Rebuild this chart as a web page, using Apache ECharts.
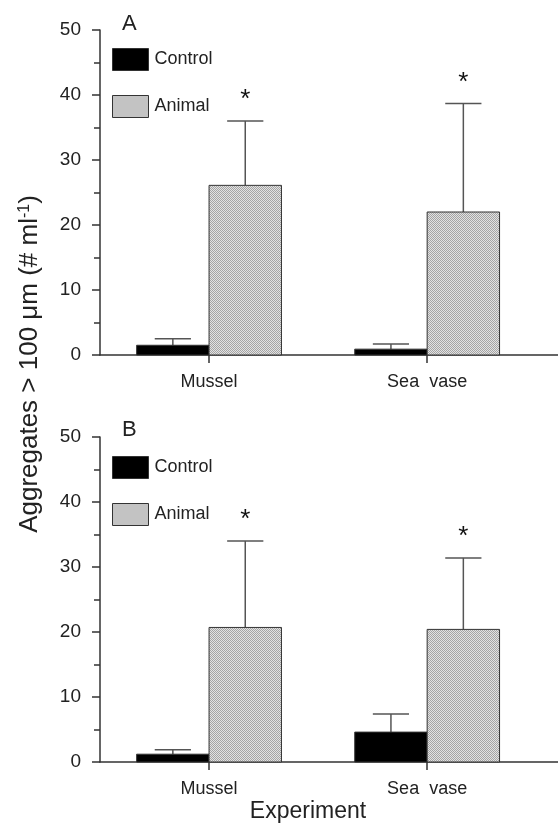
<!DOCTYPE html>
<html lang="en">
<head>
    <meta charset="UTF-8">
    <title>Aggregates</title>
    <script src="https://cdn.jsdelivr.net/npm/echarts@6/dist/echarts.min.js"></script>
</head>
<style>
    html,body{margin:0;padding:0;background:#fff;}
    #chart{width:558px;height:824px;}
</style>
<body>
    <div id="chart"></div>
</body>
</html>

<script>
    // data (means and upward SE)
    let categories = ['Mussel', 'Sea  vase'];
    let controlA = [1.5, 0.9];
    let controlASE = [1.0, 0.8];
    let animalA = [26.1, 22.0];
    let animalASE = [9.9, 16.7];
    let controlB = [1.2, 4.6];
    let controlBSE = [0.7, 2.8];
    let animalB = [20.7, 20.4];
    let animalBSE = [13.3, 11.0];
    let yTicks = [0, 10, 20, 30, 40, 50];

    let FONT = '"Liberation Sans", Arial, sans-serif';
    let BAR_W = 0.332;

    // stippled grey fill for the Animal bars
    let cv = document.createElement('canvas');
    cv.width = 2; cv.height = 2;
    let cx = cv.getContext('2d');
    cx.fillStyle = '#e2e2e2'; cx.fillRect(0, 0, 2, 2);
    cx.fillStyle = '#a4a4a4'; cx.fillRect(0, 0, 1, 1); cx.fillRect(1, 1, 1, 1);
    let stipple = {image: cv, repeat: 'repeat'};

    function toData(vals, se) {
        return vals.map((v, i) => [i, v, v + se[i]]);
    }

    function barRenderer(side, fill, star) {
        return function (params, api) {
            let x = api.value(0), v = api.value(1), top = api.value(2);
            let base = api.coord([x, 0]);
            let head = api.coord([x, v]);
            let w = api.size([BAR_W, 0])[0];
            let x0 = side < 0 ? base[0] - w : base[0];
            let mid = x0 + w / 2;
            let cap = api.coord([x, top]);
            let kids = [
                {type: 'line', shape: {x1: mid, y1: head[1], x2: mid, y2: cap[1]},
                    style: {stroke: '#555', lineWidth: 1.5}},
                {type: 'line', shape: {x1: mid - w / 4, y1: cap[1], x2: mid + w / 4, y2: cap[1]},
                    style: {stroke: '#555', lineWidth: 1.5}},
                {type: 'rect', shape: {x: x0, y: head[1], width: w, height: base[1] - head[1]},
                    style: {fill: fill, stroke: '#333', lineWidth: 1}}
            ];
            if (star) {
                kids.push({type: 'text', style: {text: '*', x: mid, y: cap[1] - 21, align: 'center',
                    verticalAlign: 'middle', fontSize: 26, fontFamily: FONT, fill: '#111'}});
            }
            return {type: 'group', children: kids};
        };
    }

    function xAxis(idx) {
        return {
            type: 'value', gridIndex: idx, min: -0.5, max: 1.6,
            splitLine: {show: false},
            axisLine: {onZero: false, lineStyle: {color: '#333', width: 1.5}},
            axisTick: {customValues: [0, 1], length: 8, lineStyle: {color: '#333', width: 1.5}},
            axisLabel: {customValues: [0, 1], formatter: v => categories[v], margin: 18,
                fontSize: 18, fontFamily: FONT, color: '#222'}
        };
    }

    function yAxis(idx) {
        return {
            type: 'value', gridIndex: idx, min: yTicks[0], max: yTicks[yTicks.length - 1], interval: 10,
            splitLine: {show: false},
            axisLine: {show: true, onZero: false, lineStyle: {color: '#333', width: 1.5}},
            axisTick: {show: true, length: 8, lineStyle: {color: '#333', width: 1.5}},
            minorTick: {show: true, splitNumber: 2, length: 6, lineStyle: {color: '#333', width: 1.5}},
            axisLabel: {margin: 19, fontSize: 19, fontFamily: FONT, color: '#222'}
        };
    }

    function legend(top) {
        return {
            orient: 'vertical', left: 107, top: top,
            itemWidth: 36, itemHeight: 22, itemGap: 24,
            selectedMode: false,
            textStyle: {fontSize: 18, fontFamily: FONT, color: '#222', padding: [0, 0, 0, 1]},
            data: [
                {name: 'Control', icon: 'rect', itemStyle: {color: '#000', borderColor: '#333', borderWidth: 1}},
                {name: 'Animal', icon: 'rect', itemStyle: {color: stipple, borderColor: '#333', borderWidth: 1}}
            ]
        };
    }

    let chart = echarts.init(document.getElementById('chart'));
    chart.setOption({
        animation: false,
        title: [
            {text: 'A', left: 117, top: 8, textStyle: {fontSize: 22, fontWeight: 'normal', fontFamily: FONT, color: '#222'}},
            {text: 'B', left: 117, top: 414, textStyle: {fontSize: 22, fontWeight: 'normal', fontFamily: FONT, color: '#222'}}
        ],
        legend: [legend(43), legend(451)],
        grid: [
            {left: 100, right: 0, top: 30, height: 325},
            {left: 100, right: 0, top: 437, height: 325}
        ],
        xAxis: [xAxis(0), xAxis(1)],
        yAxis: [yAxis(0), yAxis(1)],
        series: [
            {name: 'Control', type: 'custom', xAxisIndex: 0, yAxisIndex: 0, itemStyle: {color: '#000'},
                renderItem: barRenderer(-1, '#000', false), data: toData(controlA, controlASE)},
            {name: 'Animal', type: 'custom', xAxisIndex: 0, yAxisIndex: 0, itemStyle: {color: stipple},
                renderItem: barRenderer(1, stipple, true), data: toData(animalA, animalASE)},
            {name: 'Control', type: 'custom', xAxisIndex: 1, yAxisIndex: 1, itemStyle: {color: '#000'},
                renderItem: barRenderer(-1, '#000', false), data: toData(controlB, controlBSE)},
            {name: 'Animal', type: 'custom', xAxisIndex: 1, yAxisIndex: 1, itemStyle: {color: stipple},
                renderItem: barRenderer(1, stipple, true), data: toData(animalB, animalBSE)}
        ],
        graphic: [
            {type: 'text', x: 308, y: 812, style: {text: 'Experiment', align: 'center', verticalAlign: 'middle',
                fontSize: 23, fontFamily: FONT, fill: '#222'}},
            {type: 'text', x: 30, y: 364, rotation: Math.PI / 2,
                style: {text: 'Aggregates > 100 μm (# ml{sup|-1})', align: 'center', verticalAlign: 'middle',
                    fontSize: 26, fontFamily: FONT, fill: '#222',
                    rich: {sup: {fontSize: 16, fontFamily: FONT, fill: '#222', verticalAlign: 'top', padding: [0, 0, 11, 0]}}}}
        ]
    });
</script>
